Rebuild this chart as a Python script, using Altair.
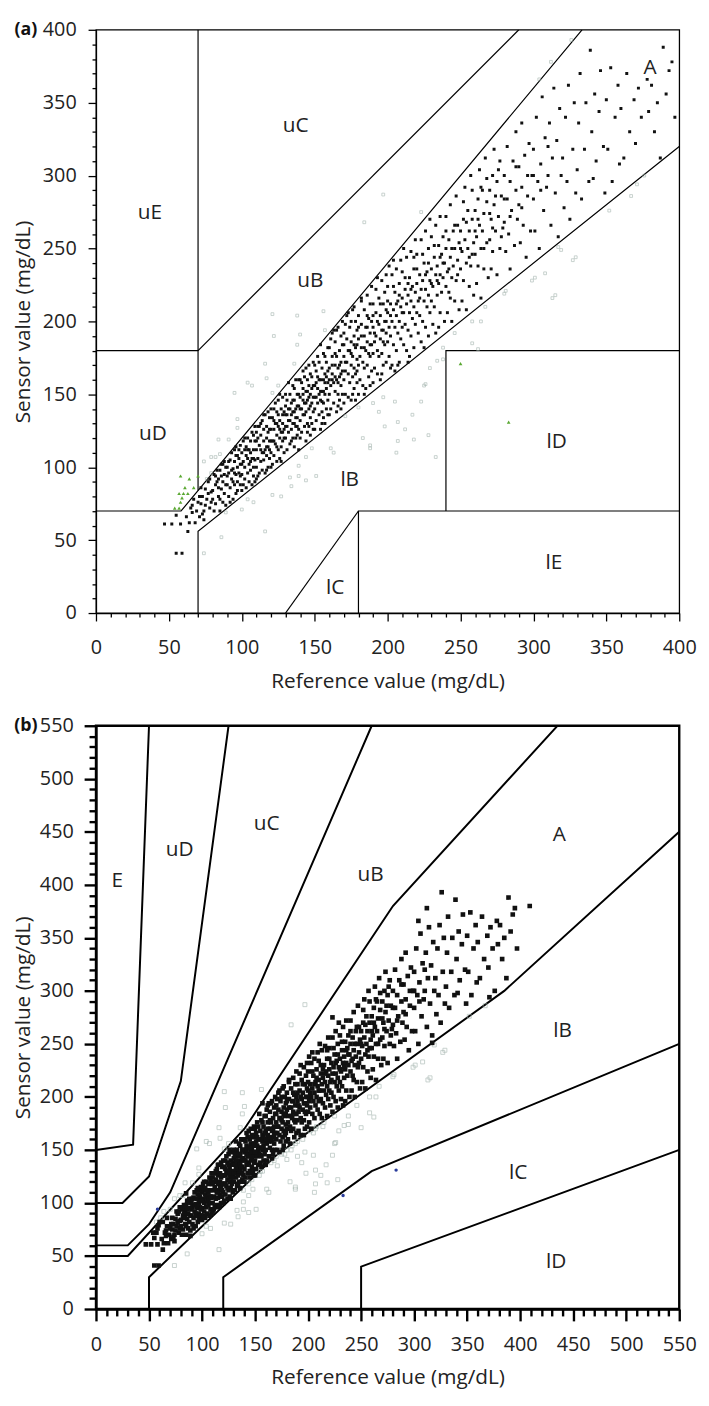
import altair as alt
import numpy as np
import pandas as pd

FONT = "Open Sans"

# ---------------- data: (reference, sensor) pairs in mg/dL ----------------
band_040_070 = [(47,61),(52,61),(58,61),(55,67),(55,41),(59,41),(63,56),(64,62),(62,66),(66,69),(65,72),(67,78),(69,70),(68,62)]

band_070_090 = [(71,66),(72,75),(73,80),(74,70),(75,85),(76,78),(77,90),(78,72),(79,83),(72,86),(74,64),(76,92),(78,92),(79,76),(71,80),
    (80,84),(81,95),(82,75),(82,88),(83,98),(84,80),(84,92),(85,70),(85,98),(86,85),(86,102),(87,90),(87,76),(88,95),(88,82),(89,100),(89,88),(81,70),(83,90),(85,78),(87,102),(89,74)]

band_090_110 = [(90,88),(90,100),(91,80),(91,96),(92,105),(92,86),(93,92),(93,110),(94,78),(94,99),(95,88),(95,104),(95,112),(96,82),(96,95),(96,108),(97,90),(97,100),(97,84),(98,112),(98,96),(98,106),(99,88),(99,102),(99,115),(92,76),(94,90),(96,114),
    (100,95),(100,110),(100,84),(101,104),(101,118),(102,92),(102,100),(103,108),(103,86),(104,96),(104,120),(105,102),(105,112),(105,90),(106,98),(106,118),(107,106),(107,88),(107,124),(108,100),(108,112),(108,94),(109,105),(109,118),(109,90),(101,88),(103,114),(104,106),(106,110),(108,122),(102,120),(109,128)]

band_110_130 = [(110,100),(110,112),(110,92),(111,120),(111,106),(112,96),(112,115),(112,128),(113,104),(113,122),(114,110),(114,98),(114,132),(115,118),(115,105),(115,126),(116,112),(116,96),(116,136),(117,120),(117,108),(117,128),(118,114),(118,100),(118,124),(119,118),(119,106),(119,134),(110,124),(111,94),(113,130),(115,136),(117,98),(119,126),(118,138),
    (120,110),(120,126),(120,100),(121,118),(121,134),(122,108),(122,126),(122,140),(123,116),(123,130),(124,104),(124,122),(124,138),(125,112),(125,128),(125,146),(126,120),(126,132),(126,106),(127,124),(127,140),(127,114),(128,130),(128,118),(128,148),(129,126),(129,110),(129,138),(120,140),(121,102),(123,144),(124,114),(126,150),(127,104),(128,136),(129,120),(122,132),(125,136)]

band_130_150 = [(130,120),(130,136),(130,150),(131,128),(131,112),(132,140),(132,124),(133,132),(133,150),(133,116),(134,126),(134,144),(135,138),(135,120),(135,156),(136,130),(136,146),(136,114),(137,128),(137,140),(137,160),(138,134),(138,122),(138,150),(139,142),(139,126),(139,112),(130,128),(131,146),(132,158),(134,118),(135,130),(136,154),(137,120),(138,142),(139,160),(132,132),(134,136),(136,138),(138,128),
    (140,132),(140,148),(140,160),(141,140),(141,124),(142,136),(142,154),(142,166),(143,144),(143,128),(144,138),(144,152),(144,118),(145,146),(145,160),(145,130),(146,140),(146,156),(146,170),(147,134),(147,150),(147,122),(148,144),(148,162),(148,130),(149,148),(149,138),(149,172),(140,120),(141,158),(143,162),(144,168),(145,124),(146,128),(147,164),(148,154),(149,126),(142,146),(144,144),(146,148)]

band_150_170 = [(150,140),(150,156),(150,170),(151,148),(151,132),(152,144),(152,162),(152,176),(153,150),(153,136),(154,146),(154,160),(154,126),(155,152),(155,168),(155,138),(156,144),(156,160),(156,178),(157,150),(157,164),(157,130),(158,154),(158,172),(158,140),(159,158),(159,146),(159,182),(150,126),(151,166),(153,172),(154,184),(155,130),(156,134),(157,176),(158,162),(159,136),(152,154),(154,152),(156,152),
    (160,150),(160,168),(160,182),(161,156),(161,140),(162,164),(162,176),(162,192),(163,158),(163,144),(164,170),(164,152),(164,186),(165,160),(165,176),(165,138),(166,168),(166,150),(166,196),(167,162),(167,180),(167,146),(168,172),(168,156),(168,190),(169,166),(169,150),(169,184),(160,136),(161,188),(163,194),(165,194),(166,142),(168,140),(169,200),(162,160),(164,162),(167,170)]

band_170_190 = [(170,160),(170,176),(170,192),(171,166),(171,150),(172,172),(172,188),(172,204),(173,164),(173,148),(174,180),(174,158),(174,196),(175,170),(175,186),(175,146),(176,176),(176,162),(176,208),(177,168),(177,190),(177,154),(178,182),(178,164),(178,200),(179,174),(179,158),(179,194),(170,144),(171,198),(173,206),(175,200),(176,150),(177,210),(178,146),(179,184),
    (180,170),(180,188),(180,204),(181,176),(181,160),(182,182),(182,198),(182,214),(183,172),(183,156),(184,190),(184,168),(184,208),(185,180),(185,196),(185,154),(186,186),(186,170),(186,218),(187,178),(187,202),(187,162),(188,192),(188,176),(188,212),(189,184),(189,166),(189,200),(180,150),(182,216),(184,150),(186,204),(188,156),(189,224)]

band_190_210 = [(190,178),(190,196),(190,212),(191,186),(191,168),(192,190),(192,206),(192,222),(193,180),(193,164),(194,198),(194,176),(194,216),(195,188),(195,204),(195,160),(196,194),(196,178),(196,228),(197,186),(197,212),(197,170),(198,200),(198,184),(198,220),(199,192),(199,172),(199,232),(190,158),(193,230),(196,164),(199,208),
    (200,186),(200,206),(200,224),(201,196),(201,176),(202,212),(202,190),(203,200),(203,232),(203,170),(204,208),(204,184),(205,220),(205,196),(205,166),(206,204),(206,236),(206,180),(207,214),(207,192),(208,226),(208,200),(208,172),(209,210),(209,188),(209,242),(201,238),(204,242),(207,170),(202,168)]

band_210_240 = [(210,196),(210,216),(210,234),(211,206),(211,184),(212,222),(212,198),(213,212),(213,244),(213,180),(214,218),(214,194),(215,230),(215,206),(215,176),(216,214),(216,248),(216,190),(217,224),(217,202),(218,236),(218,210),(218,182),(219,220),(219,198),(219,256),(211,250),(214,172),
    (220,206),(220,226),(220,246),(221,214),(221,192),(222,232),(222,204),(223,222),(223,256),(223,186),(224,228),(224,200),(225,240),(225,214),(225,182),(226,222),(226,262),(226,196),(227,234),(227,210),(228,250),(228,218),(228,190),(229,228),(229,206),(229,270),
    (230,214),(230,236),(230,258),(231,224),(231,198),(232,244),(232,210),(233,232),(233,266),(233,192),(234,238),(234,218),(235,252),(235,226),(235,196),(236,232),(236,272),(236,206),(237,246),(237,220),(238,258),(238,230),(239,240),(239,200)]

band_240_280 = [(240,224),(240,250),(240,272),(241,234),(241,206),(242,256),(242,220),(243,244),(243,280),(244,230),(244,200),(245,262),(245,238),(246,214),(246,250),(247,286),(247,228),(248,266),(248,242),(249,254),(249,208),(243,216),
    (250,236),(250,262),(251,248),(251,214),(252,270),(252,228),(253,256),(253,292),(254,240),(254,208),(255,276),(255,250),(256,224),(256,262),(257,300),(257,238),(258,270),(258,246),(259,254),(259,218),
    (260,246),(260,276),(261,258),(261,226),(262,284),(262,238),(263,266),(263,304),(264,250),(264,216),(265,290),(265,262),(266,236),(266,274),(267,312),(268,254),(268,282),(269,230),
    (270,256),(270,290),(271,270),(271,236),(272,300),(272,248),(273,280),(273,318),(274,262),(275,232),(275,296),(276,272),(277,250),(277,310),(278,286),(279,264)]

band_280_410 = [(280,268),(280,300),(281,248),(282,284),(282,320),(283,260),(284,296),(284,236),(285,276),(286,310),(287,252),(288,290),(288,330),(289,270),
    (290,280),(290,306),(291,254),(292,292),(292,336),(293,266),(294,314),(295,244),(296,286),(297,322),(298,262),(299,300),
    (300,284),(300,318),(301,262),(302,340),(303,296),(304,250),(305,308),(306,354),(307,276),(308,326),(309,292),
    (310,300),(311,336),(312,266),(313,312),(314,360),(315,288),(316,324),(317,258),(318,346),(319,300),
    (320,312),(321,278),(322,340),(323,296),(324,362),(325,270),(327,318),(328,350),(329,288),
    (330,304),(331,336),(332,370),(333,284),(335,318),(336,350),(338,296),(339,386),
    (340,330),(341,298),(342,356),(343,310),(345,344),(346,372),(348,320),(349,288),
    (350,352),(351,318),(353,374),(354,296),(356,340),(358,362),(359,308),
    (360,346),(362,312),(364,370),(366,330),(367,286),(369,352),
    (370,322),(372,360),(374,340),(376,300),(378,366),(379,344),
    (381,362),(383,330),(385,350),(387,312),(389,388),
    (391,356),(393,372),(395,378),(397,340),(409,380)]

band_dense_core = [(66,74),(70,76),(73,68),(75,74),(77,82),(80,78),(82,94),(84,86),(86,94),(88,104),(90,94),(91,104),(93,98),
    (95,96),(97,108),(99,94),(100,102),(102,112),(104,112),(106,104),(108,106),(110,118),(111,128),(113,112),(115,110),(117,114),
    (119,112),(120,118),(122,118),(124,130),(126,126),(128,124),(130,142),(131,136),(133,140),(135,146),(137,134),(139,150),
    (140,140),(142,150),(143,136),(145,152),(147,142),(149,156),(150,148),(151,158),(153,160),(155,145),(157,158),(159,166),
    (160,160),(162,170),(164,178),(166,158),(168,164),(170,184),(171,172),(173,180),(175,178),(177,184),(179,166),(180,196),
    (182,190),(184,182),(186,196),(188,184),(190,204),(191,192),(193,200),(195,212),(197,194),(199,200),(200,214),(202,204),
    (204,224),(206,212),(208,218),(210,206),(212,230),(214,226),(216,222),(218,244),(220,236),(222,216),(224,246),(226,232),
    (228,240),(230,226),(232,252),(234,228),(236,244),(238,240),(240,262),(242,236),(244,250),(246,266),(248,232),(250,250),
    (252,282),(254,268),(256,244),(258,290),(260,262),(262,270),(264,292),(266,250),(268,298),(270,274),(272,264),(274,286),
    (276,304),(278,258),(280,284),(284,272),(288,306),(292,278),(296,300),(300,300),(305,290),(310,320)]

outliers_low = [(54,72),(57,72),(58,76),(57,82),(59,79),(60,82),(63,82),(61,86),(67,86),(58,94),(64,92),(70,94),
    (74,41),(86,52),(116,56)]

outliers_above = [(84,119),(91,119),(79,107),(82,107),(85,109),(97,133),(97,127),(74,104),(79,96),(95,151),(104,158),(107,156),
    (117,161),(121,151),(125,156),(116,171),(136,171),(122,190),(138,204),(140,191),(157,194),(121,205),(156,207),(138,184),
    (184,268),(197,287),(223,275),(304,366),(312,378),(326,393)]

outliers_below = [(148,113),(144,107),(139,101),(121,81),(127,80),(108,76),(100,71),(89,69),(161,113),(151,94),(133,93),
    (139,94),(183,120),(197,148),(207,131),(207,118),(206,110),(218,119),(226,157),(229,168),(233,107),(228,122),(217,136),
    (188,113),(194,138),(258,185),(262,181),(264,200),(238,174),(250,171),(283,131),(104,78),(134,87),(144,91),(163,110),
    (188,115),(171,135),(180,141),(190,144),(205,145),(223,145),(225,156),(246,192),(258,200),(267,210),(280,219),(313,216),
    (299,228),(308,233),(317,251),(327,242),(234,173),(238,182),(352,276),(371,294),(319,249),(329,244),(315,218),(301,230),
    (281,221),(212,126),(198,128)]

# ---------------- zone boundaries ----------------
clarke_lines = {
    "a_upper": [(0, 70), (58.33, 70), (333.33, 400)],
    "a_lower": [(70, 0), (70, 56), (400, 320)],
    "ue_left": [(0, 180), (70, 180), (70, 84)],
    "ue_right": [(70, 180), (70, 400)],
    "uc": [(70, 180), (290, 400)],
    "lc": [(130, 0), (180, 70)],
    "le": [(180, 0), (180, 70), (400, 70)],
    "ld": [(240, 70), (240, 180), (400, 180)],
}
parkes_a_upper = [(0, 50), (30, 50), (140, 170), (280, 380), (5000, 5550)]
parkes_a_lower = [(50, 0), (50, 30), (170, 145), (385, 300), (550, 450)]
parkes_b_upper = [(0, 60), (30, 60), (50, 80), (70, 110), (260, 550)]
parkes_b_lower = [(120, 0), (120, 30), (260, 130), (550, 250)]
parkes_c_upper = [(0, 100), (25, 100), (50, 125), (80, 215), (125, 550)]
parkes_c_lower = [(250, 0), (250, 40), (550, 150)]
parkes_d_upper = [(0, 150), (35, 155), (50, 550)]
parkes_lines = {"au": parkes_a_upper, "al": parkes_a_lower, "bu": parkes_b_upper, "bl": parkes_b_lower,
                "cu": parkes_c_upper, "cl": parkes_c_lower, "du": parkes_d_upper}

clarke_labels = [("uE", 37, 274), ("uC", 137, 334), ("uB", 147, 228), ("A", 380, 374), ("uD", 39, 123),
                 ("lB", 174, 91), ("lD", 316, 117), ("lC", 164, 17), ("lE", 314, 34)]
parkes_labels = [("E", 20, 404), ("uD", 79, 433), ("uC", 161, 457), ("uB", 259, 409), ("A", 437, 447),
                 ("lB", 440, 262), ("lC", 398, 128), ("lD", 434, 44)]

# ---------------- classification ----------------
def clarke_zone(r, s):
    if (r <= 70 and s <= 70) or (0.8 * r <= s <= 1.2 * r):
        return "A"
    if (r >= 180 and s <= 70) or (r <= 70 and s >= 180):
        return "E"
    if (70 <= r <= 290 and s >= r + 110) or (130 <= r <= 180 and s <= 1.4 * r - 182):
        return "C"
    if (r >= 240 and 70 <= s <= 180) or (r <= 175 / 3 and 70 <= s <= 180) or (175 / 3 <= r <= 70 and s >= 1.2 * r):
        return "D"
    return "B"


def _f(x, pts):
    return float(np.interp(x, [p[0] for p in pts], [p[1] for p in pts]))


def parkes_zone(r, s):
    if _f(r, parkes_a_lower) <= s <= _f(r, parkes_a_upper):
        return "A"
    if _f(r, parkes_b_lower) <= s <= _f(r, parkes_b_upper):
        return "B"
    return "C"


pairs = (band_040_070 + band_070_090 + band_090_110 + band_110_130 + band_130_150 + band_150_170 +
         band_170_190 + band_190_210 + band_210_240 + band_240_280 + band_280_410 + band_dense_core +
         outliers_low + outliers_above + outliers_below)
df = pd.DataFrame(pairs, columns=["ref", "sensor"])
df["clarke"] = [clarke_zone(r, s) for r, s in pairs]
df["parkes"] = [parkes_zone(r, s) for r, s in pairs]

W = 590
H = 590


def lines_df(lines):
    rows = []
    for name, pts in lines.items():
        for i, (x, y) in enumerate(pts):
            rows.append({"line": name, "i": i, "ref": x, "sensor": y})
    return pd.DataFrame(rows)


def make_axis(kind, maxv, major, minor, w, pad):
    common = dict(
        values=list(range(0, maxv + 1, 10)),
        labelExpr="datum.value % 50 === 0 ? datum.label : ''",
        tickSize={"condition": {"test": "datum.value % 50 === 0", "value": major}, "value": minor},
        tickWidth=w, tickColor="black", domainColor="black", domainWidth=w,
        labelFont=FONT, labelFontSize=20, labelColor="#222", labelFlush=False, labelOverlap=False,
        labelPadding=pad, grid=False, titleFont=FONT, titleFontSize=21, titleColor="#222",
        titleFontWeight="normal",
    )
    if kind == "x":
        return alt.Axis(title="Reference value (mg/dL)", titleY=69, titleBaseline="middle", **common)
    return alt.Axis(title="Sensor value (mg/dL)", titleX=-73, titleY=H / 2, titleAngle=270,
                    titleBaseline="middle", titleAlign="center", **common)


def panel(zone_col, maxv, lines, labels, tag, major, minor, w, lw, pad_x, pad_y,
          black_size, gray_size, special, special_mark):
    sc = alt.Scale(domain=[0, maxv], nice=False, zero=False)
    X = alt.X("ref:Q", scale=sc, axis=make_axis("x", maxv, major, minor, w, pad_x))
    Y = alt.Y("sensor:Q", scale=sc, axis=make_axis("y", maxv, major, minor, w, pad_y))

    line_layer = alt.Chart(lines_df(lines)).mark_line(color="black", strokeWidth=lw, clip=True).encode(
        x=X, y=Y, detail="line:N", order="i:Q")
    gray = alt.Chart(df[df[zone_col] == "B"]).mark_square(
        filled=False, size=gray_size, color="#9fb0aa", strokeWidth=0.8, clip=True).encode(x=X, y=Y)
    black = alt.Chart(df[df[zone_col] == "A"]).mark_square(
        filled=True, size=black_size, color="#111111", opacity=1, clip=True).encode(x=X, y=Y)
    spec = alt.Chart(df[df[zone_col] == special]).mark_point(clip=True, opacity=1, **special_mark).encode(x=X, y=Y)
    lab = alt.Chart(pd.DataFrame(labels, columns=["t", "ref", "sensor"])).mark_text(
        font=FONT, fontSize=21, color="#222", align="center", baseline="middle").encode(x=X, y=Y, text="t:N")
    tag_layer = alt.Chart(pd.DataFrame({"t": [tag]})).mark_text(
        font=FONT, fontSize=18, fontWeight="bold", color="#111", align="center", baseline="middle").encode(
        x=alt.value(-71), y=alt.value(0), text="t:N")
    return alt.layer(line_layer, gray, black, spec, lab, tag_layer).properties(
        width=W, height=H, view=alt.ViewBackground(stroke="black", strokeWidth=w))


chart_a = panel("clarke", 400, clarke_lines, clarke_labels, "(a)", 8, 4, 1.3, 1.2, 17, 12,
                9, 8, "D", dict(shape="triangle-up", filled=True, size=14, color="#5aa832"))
chart_b = panel("parkes", 550, parkes_lines, parkes_labels, "(b)", 12, 7, 2.4, 2.0, 14, 11,
                22, 16, "C", dict(shape="circle", filled=True, size=12, color="#2a3d9c"))

chart = alt.vconcat(chart_a, chart_b, spacing=22).configure(
    background="white", padding={"left": 3, "top": 3, "right": 3, "bottom": 3})
chart.save("out.html", embed_options={"renderer": "svg", "actions": False})
